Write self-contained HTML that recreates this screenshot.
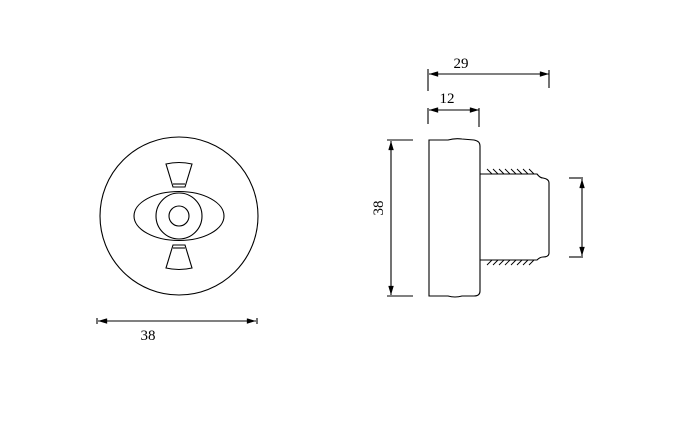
<!DOCTYPE html>
<html><head><style>body{margin:0;background:#fff}svg{display:block}</style></head>
<body>
<svg width="680" height="430" viewBox="0 0 680 430" xmlns="http://www.w3.org/2000/svg" fill="none" stroke="#000" stroke-width="1.1">
<defs><marker id="a" viewBox="0 0 10 6" refX="10" refY="3" markerWidth="10" markerHeight="5" orient="auto-start-reverse"><path d="M0,0 L10,3 L0,6z" fill="#000" stroke="none"/></marker></defs>
<circle cx="179" cy="216" r="79"/>
<ellipse cx="179" cy="216" rx="45" ry="24.5"/>
<circle cx="179" cy="216" r="23"/>
<circle cx="179" cy="216" r="10"/>
<path d="M166,164 Q179,161 192,164 L185,187 L173,187 Z"/>
<line x1="173" y1="184" x2="185" y2="184"/>
<path d="M166,268 Q179,271 192,268 L185,245 L173,245 Z"/>
<line x1="173" y1="248" x2="185" y2="248"/>
<line x1="98" y1="321" x2="256" y2="321" marker-start="url(#a)" marker-end="url(#a)"/>
<line x1="97" y1="318" x2="97" y2="324"/><line x1="257" y1="318" x2="257" y2="324"/>
<text x="148" y="340" font-family="Liberation Serif, serif" font-size="15" text-anchor="middle" fill="#000" stroke="none">38</text>
<line x1="429" y1="74" x2="549" y2="74" marker-start="url(#a)" marker-end="url(#a)"/>
<line x1="428" y1="69" x2="428" y2="91"/><line x1="549" y1="70" x2="549" y2="88"/>
<text x="461" y="68" font-family="Liberation Serif, serif" font-size="15" text-anchor="middle" fill="#000" stroke="none">29</text>
<line x1="429" y1="110" x2="479" y2="110" marker-start="url(#a)" marker-end="url(#a)"/>
<line x1="428" y1="108" x2="428" y2="124"/><line x1="479" y1="108" x2="479" y2="127"/>
<text x="447" y="103" font-family="Liberation Serif, serif" font-size="15" text-anchor="middle" fill="#000" stroke="none">12</text>
<path d="M429,140 L448,140 Q455,138 462,139 L474,140 Q480,141 480,146 L480,291 Q480,296 474,296 L462,296 Q455,298 448,296 L429,296 Z"/>
<line x1="391" y1="141" x2="391" y2="295" marker-start="url(#a)" marker-end="url(#a)"/>
<line x1="387" y1="140" x2="413" y2="140"/><line x1="387" y1="296" x2="413" y2="296"/>
<text transform="translate(383,208) rotate(-90)" font-family="Liberation Serif, serif" font-size="15" text-anchor="middle" fill="#000" stroke="none">38</text>
<path d="M480,174 L537,174 Q540,178 543,178 Q549,179 549,183 L549,253 Q549,257 543,257 Q540,257 537,260 L480,260"/>
<g stroke-width="0.9">
<path d="M487,169 l5,5 M493,169 l5,5 M499,169 l5,5 M505,169 l5,5 M511,169 l5,5 M517,169 l5,5 M523,169 l5,5 M529,169 l5,5"/>
<path d="M487,265 l5,-5 M493,265 l5,-5 M499,265 l5,-5 M505,265 l5,-5 M511,265 l5,-5 M517,265 l5,-5 M523,265 l5,-5 M529,265 l5,-5"/>
</g>
<line x1="582" y1="179" x2="582" y2="256" marker-start="url(#a)" marker-end="url(#a)"/>
<line x1="569" y1="178" x2="583" y2="178"/><line x1="569" y1="257" x2="583" y2="257"/>
</svg>
</body></html>
